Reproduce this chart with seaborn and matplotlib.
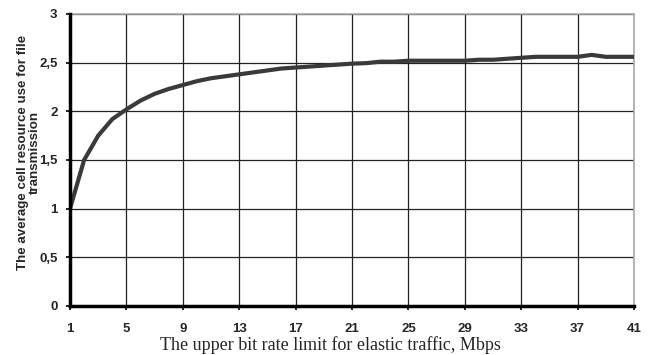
import matplotlib
matplotlib.use("Agg")
import matplotlib.pyplot as plt
import seaborn as sns
import pandas as pd

x_vals = list(range(1, 42))
y_vals = [1.00, 1.50, 1.75, 1.92, 2.02, 2.11, 2.18, 2.23, 2.27, 2.31,
          2.34, 2.36, 2.38, 2.40, 2.42, 2.44, 2.45, 2.46, 2.47, 2.48,
          2.49, 2.495, 2.51, 2.51, 2.52, 2.52, 2.52, 2.52, 2.52, 2.53,
          2.53, 2.54, 2.55, 2.56, 2.56, 2.56, 2.56, 2.58, 2.56, 2.56, 2.56]
x_ticks = [1, 5, 9, 13, 17, 21, 25, 29, 33, 37, 41]
y_ticks = [0, 0.5, 1, 1.5, 2, 2.5, 3]
y_tick_labels = ["0", "0,5", "1", "1,5", "2", "2,5", "3"]

sns.set_theme(style="white")
plt.rcParams['font.family'] = ['Liberation Sans', 'DejaVu Sans']

df = pd.DataFrame({"x": x_vals, "y": y_vals})

fig = plt.figure(figsize=(6.52, 3.55), dpi=100)
ax = fig.add_axes([70/652, 1 - 306/355, (634-70)/652, (306-14)/355])

ax.set_xlim(1, 41)
ax.set_ylim(0, 3)
ax.set_xticks(x_ticks)
ax.set_yticks(y_ticks)
ax.set_yticklabels(y_tick_labels)
ax.grid(True, color="#222222", linewidth=0.9)
ax.set_axisbelow(True)

sns.lineplot(data=df, x="x", y="y", ax=ax, color="#3a3a3a", linewidth=3.0, zorder=5)

for s in ["top", "right"]:
    ax.spines[s].set_color("#aaaaaa")
    ax.spines[s].set_linewidth(1.2)
for s in ["left", "bottom"]:
    ax.spines[s].set_color("black")
    ax.spines[s].set_linewidth(2.5)
    ax.spines[s].set_zorder(6)

ax.tick_params(axis="both", which="both", direction="out", length=3, width=1.2,
               color="black", labelsize=9.5, left=True, bottom=True)
ax.tick_params(axis="y", pad=6)
ax.tick_params(axis="x", pad=9)
for lbl in ax.get_xticklabels() + ax.get_yticklabels():
    lbl.set_fontweight("bold")

ax.set_ylabel("The average cell resource use for file\ntransmission",
              fontsize=9.6, fontweight="bold", linespacing=0.9,
              va="center", ha="center", multialignment="center")
ax.yaxis.set_label_coords((29 - 70) / 564, (306 - 152) / 292)
ax.set_xlabel("The upper bit rate limit for elastic traffic, Mbps",
              fontsize=13, family="Liberation Serif")
ax.xaxis.set_label_coords((330 - 70) / 564, -(345 - 306) / 292)
ax.xaxis.label.set_va("center")

fig.savefig("out.png", dpi=100)
